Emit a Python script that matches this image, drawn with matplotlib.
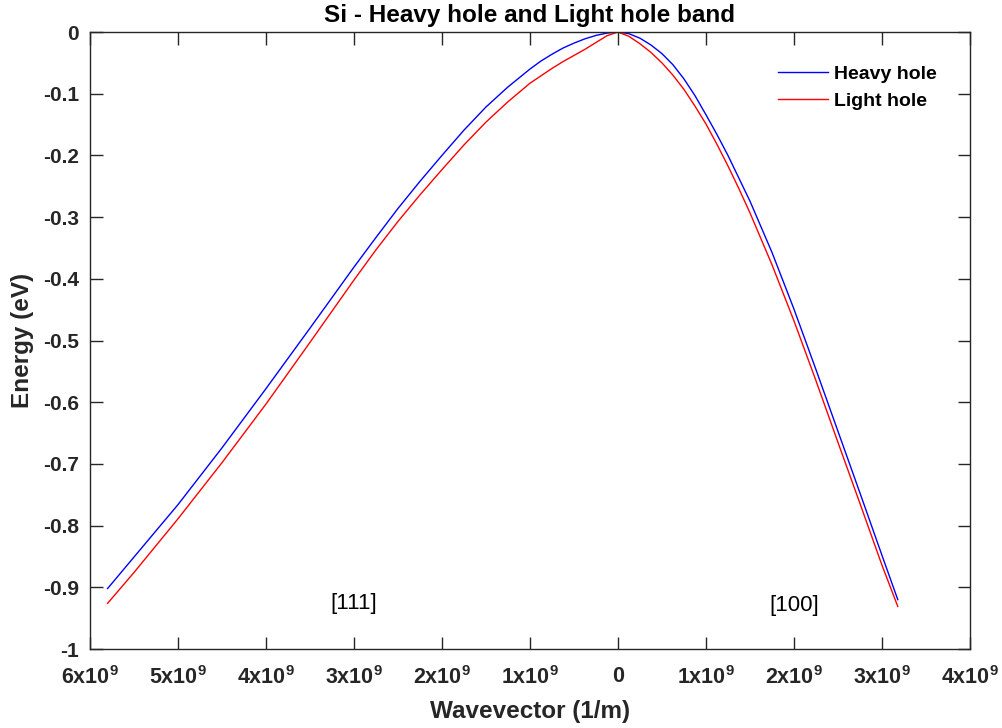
import numpy as np
import matplotlib
matplotlib.use("Agg")
import matplotlib.pyplot as plt

plt.rcParams["font.family"] = "Liberation Sans"
plt.rcParams["mathtext.fontset"] = "custom"
plt.rcParams["mathtext.rm"] = "Liberation Sans:bold"
plt.rcParams["mathtext.it"] = "Liberation Sans:bold"
plt.rcParams["mathtext.bf"] = "Liberation Sans:bold"

# wavevector in units of 1e9 1/m; [111] drawn on the negative side
k_111 = [-5.8, -5.5, -5.0, -4.5, -4.0, -3.5, -3.0, -2.75, -2.5, -2.25, -2.0, -1.75,
         -1.5, -1.25, -1.0, -0.875, -0.75, -0.625, -0.5, -0.375, -0.25, -0.125]
hh_111 = [-0.902, -0.851, -0.766, -0.674, -0.578, -0.480, -0.381, -0.333, -0.286, -0.242,
          -0.200, -0.159, -0.1215, -0.089, -0.060, -0.047, -0.036, -0.026, -0.018, -0.011,
          -0.0055, -0.0017]
lh_111 = [-0.926, -0.876, -0.789, -0.698, -0.603, -0.503, -0.402, -0.353, -0.307, -0.264,
          -0.223, -0.183, -0.146, -0.113, -0.083, -0.071, -0.059, -0.048, -0.038, -0.028,
          -0.017, -0.006]

# [100] side
k_100 = [0, 0.125, 0.25, 0.375, 0.5, 0.625, 0.75, 0.875, 1.0, 1.125, 1.25, 1.375, 1.5,
         1.75, 2.0, 2.25, 2.5, 2.75, 3.0, 3.18]
hh_100 = [0, -0.0027, -0.010, -0.021, -0.035, -0.053, -0.076, -0.103, -0.134, -0.166,
          -0.200, -0.237, -0.274, -0.357, -0.449, -0.547, -0.647, -0.747, -0.848, -0.920]
lh_100 = [0, -0.007, -0.019, -0.033, -0.050, -0.070, -0.093, -0.120, -0.149, -0.182,
          -0.217, -0.254, -0.293, -0.377, -0.468, -0.565, -0.665, -0.764, -0.864, -0.931]

xtick_vals = [-6, -5, -4, -3, -2, -1, 0, 1, 2, 3, 4]
ytick_vals = [0, -0.1, -0.2, -0.3, -0.4, -0.5, -0.6, -0.7, -0.8, -0.9, -1]


def main():
    k = np.array(k_111 + k_100) * 1e9
    hh = np.array(hh_111 + hh_100)
    lh = np.array(lh_111 + lh_100)

    fig = plt.figure(figsize=(10.02, 7.28), dpi=100)
    ax = fig.add_axes([0.0898, 0.1085, 0.8782, 0.8475])

    ax.plot(k, hh, color="#0000ff", lw=1.0, label="Heavy hole")
    ax.plot(k, lh, color="#ff0000", lw=1.0, label="Light hole")

    ax.set_xlim(-6e9, 4e9)
    ax.set_ylim(-1, 0)

    xt = np.array(xtick_vals) * 1e9
    xl = ["0" if v == 0 else r"$%dx10^{9}$" % abs(v) for v in xtick_vals]
    ax.set_xticks(xt)
    ax.set_xticklabels(xl)
    ax.set_yticks(ytick_vals)
    ax.set_yticklabels(["%g" % v for v in ytick_vals])

    ax.tick_params(direction="in", length=9, width=1, color="#262626",
                   top=True, right=True, labelsize=15)
    ax.tick_params(axis="x", labelsize=15.5, pad=12)
    ax.tick_params(axis="y", pad=8)
    for lab in ax.get_xticklabels() + ax.get_yticklabels():
        lab.set_fontweight("bold")
        lab.set_color("#262626")
    for sp in ax.spines.values():
        sp.set_color("#262626")
        sp.set_linewidth(1)

    ax.set_xlabel("Wavevector (1/m)", fontsize=17.5, fontweight="bold",
                  color="#262626", labelpad=8)
    ax.set_ylabel("Energy (eV)", fontsize=17.5, fontweight="bold",
                  color="#262626", labelpad=6)
    ax.set_title("Si - Heavy hole and Light hole band", fontsize=17.5,
                 fontweight="bold", pad=7)

    ax.text(-3.0e9, -0.927, "[111]", fontsize=16, ha="center", va="center")
    ax.text(2.0e9, -0.93, "[100]", fontsize=16, ha="center", va="center")

    ax.legend(loc="upper left", bbox_to_anchor=(0.7727, 0.959), frameon=False,
              prop={"weight": "bold", "size": 14}, handlelength=2.57,
              handletextpad=0.3, labelspacing=0.5, borderaxespad=0)

    fig.savefig("out.png", dpi=100)
    plt.close(fig)


if __name__ == "__main__":
    main()
